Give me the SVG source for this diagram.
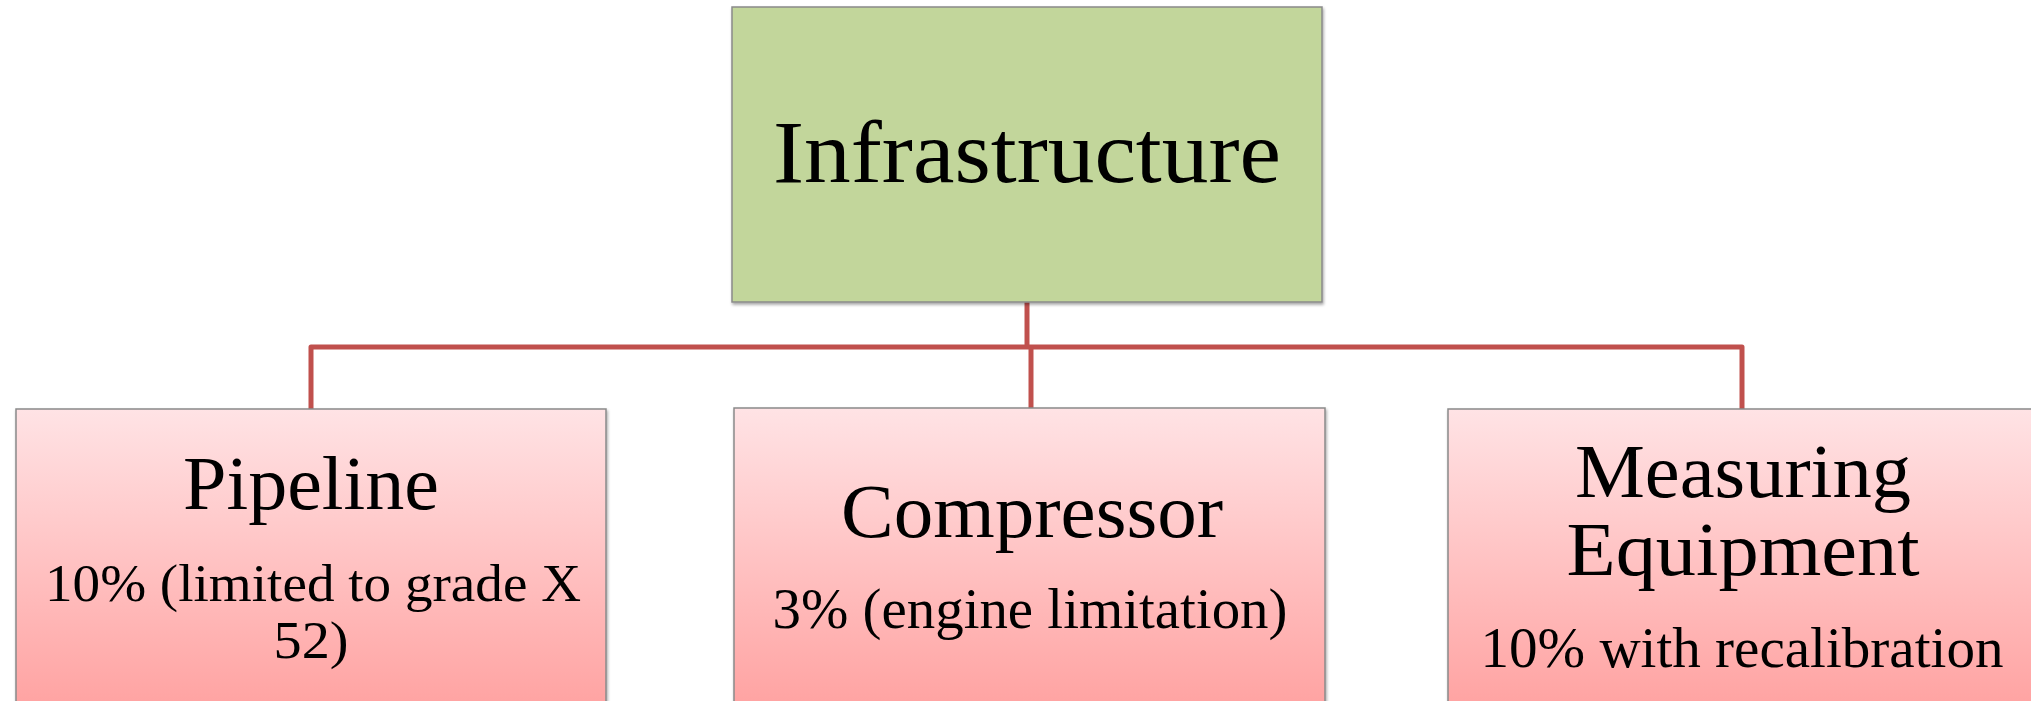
<svg xmlns="http://www.w3.org/2000/svg" width="2031" height="701" viewBox="0 0 2031 701">
  <style>
    .lbl { font-family: "Liberation Serif", "Times New Roman", serif; fill: #000; text-anchor: middle; }
    .conn { fill: none; stroke: #C0504D; stroke-width: 5; stroke-linejoin: round; }
    .box { stroke: #8a8a8a; stroke-width: 1.5; filter: url(#sh); }
  </style>
  <defs>
    <linearGradient id="pink" x1="0" y1="0" x2="0" y2="1">
      <stop offset="0" stop-color="#FFE3E5"/>
      <stop offset="1" stop-color="#FFA3A2"/>
    </linearGradient>
    <filter id="sh" x="-5%" y="-5%" width="110%" height="110%">
      <feDropShadow dx="1" dy="2" stdDeviation="1.5" flood-color="#000" flood-opacity="0.35"/>
    </filter>
  </defs>
  <rect width="2031" height="701" fill="#fff"/>
  <g id="connectors">
    <path class="conn" d="M1027,302 V347"/>
    <path class="conn" d="M311,409 V347 H1742 V409"/>
    <path class="conn" d="M1031,347 V408"/>
  </g>
  <g id="infrastructure">
    <rect class="box" x="732" y="7" width="590" height="295" fill="#C2D69B"/>
    <text class="lbl" x="1027" y="182" font-size="88" textLength="508" lengthAdjust="spacingAndGlyphs">Infrastructure</text>
  </g>
  <g id="pipeline">
    <rect class="box" x="16" y="409" width="590" height="296" fill="url(#pink)"/>
    <text class="lbl" x="311" y="509" font-size="77" textLength="256" lengthAdjust="spacingAndGlyphs">Pipeline</text>
    <text class="lbl" x="313" y="601" font-size="52" textLength="536" lengthAdjust="spacingAndGlyphs">10% (limited to grade X</text>
    <text class="lbl" x="311" y="658" font-size="52" textLength="75" lengthAdjust="spacingAndGlyphs">52)</text>
  </g>
  <g id="compressor">
    <rect class="box" x="734" y="408" width="591" height="297" fill="url(#pink)"/>
    <text class="lbl" x="1032" y="537" font-size="77" textLength="382" lengthAdjust="spacingAndGlyphs">Compressor</text>
    <text class="lbl" x="1030" y="628" font-size="56" textLength="515" lengthAdjust="spacingAndGlyphs">3% (engine limitation)</text>
  </g>
  <g id="measuring">
    <rect class="box" x="1448" y="409" width="590" height="296" fill="url(#pink)"/>
    <text class="lbl" x="1743" y="497" font-size="77" textLength="336" lengthAdjust="spacingAndGlyphs">Measuring</text>
    <text class="lbl" x="1743" y="575" font-size="77" textLength="353" lengthAdjust="spacingAndGlyphs">Equipment</text>
    <text class="lbl" x="1742" y="667" font-size="56" textLength="523" lengthAdjust="spacingAndGlyphs">10% with recalibration</text>
  </g>
</svg>
